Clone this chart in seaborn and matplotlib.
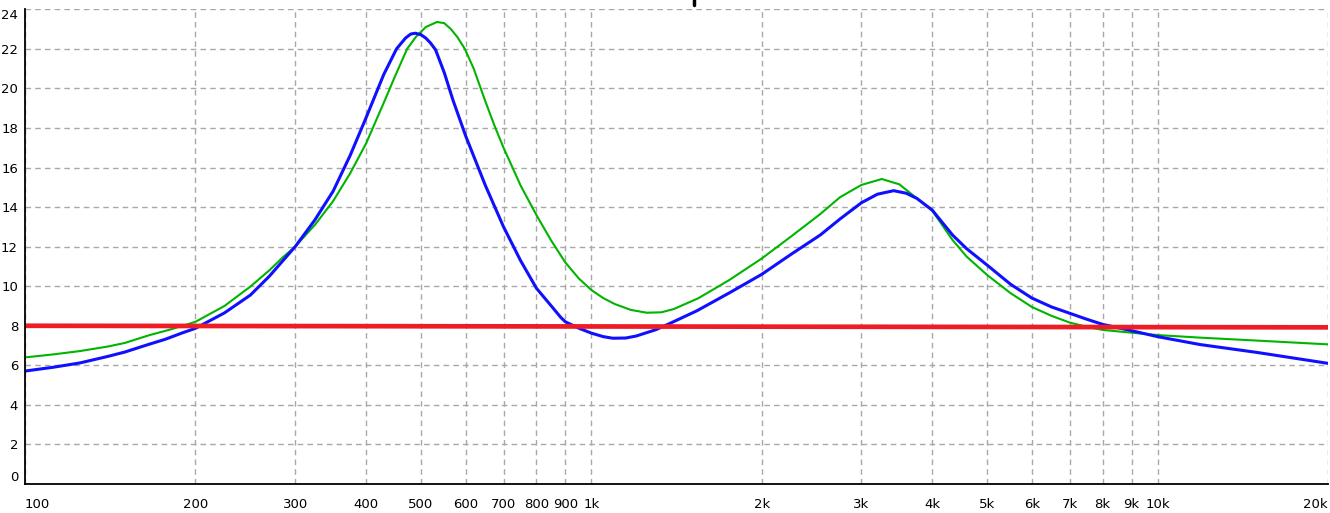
import matplotlib
matplotlib.use("Agg")
import matplotlib.pyplot as plt
from matplotlib.ticker import NullLocator
import seaborn as sns

# Werte (Frequenz in Hz)
freq_blue = [100, 112, 125, 140, 150, 165, 177, 190, 200, 225, 250, 270, 286,
             300, 325, 350, 375, 400, 412, 430, 453, 470, 480, 489, 500, 510,
             520, 531, 550, 570, 600, 650, 700, 750, 800, 850, 883, 900, 950,
             1000, 1050, 1091, 1150, 1200, 1300, 1377, 1450, 1537, 1750, 2000,
             2250, 2538, 2750, 3000, 3200, 3420, 3600, 3758, 4000, 4344, 4600,
             5000, 5500, 6000, 6500, 7000, 7500, 8000, 9000, 10000, 11890,
             15000, 20000]
blue_vals = [5.71, 5.9, 6.12, 6.45, 6.67, 7.05, 7.32, 7.65, 7.87, 8.65, 9.55,
             10.5, 11.32, 12.0, 13.35, 14.8, 16.6, 18.5, 19.4, 20.7, 22.0, 22.55,
             22.75, 22.79, 22.72, 22.55, 22.3, 21.95, 20.8, 19.4, 17.6, 15.1,
             13.0, 11.3, 9.9, 9.0, 8.43, 8.2, 7.88, 7.63, 7.45, 7.37, 7.38, 7.48,
             7.8, 8.12, 8.42, 8.76, 9.65, 10.6, 11.6, 12.59, 13.4, 14.22, 14.65,
             14.83, 14.7, 14.44, 13.85, 12.59, 11.9, 11.07, 10.1, 9.4, 8.95,
             8.63, 8.33, 8.07, 7.75, 7.45, 7.05, 6.65, 6.10]

freq_green = [100, 112, 125, 140, 150, 166, 180, 200, 225, 250, 270, 286, 300,
              325, 350, 375, 400, 432, 450, 473, 490, 510, 534, 550, 565, 580,
              598, 620, 649, 675, 700, 750, 800, 850, 900, 950, 1000, 1050, 1100,
              1175, 1253, 1330, 1400, 1545, 1750, 2000, 2250, 2538, 2750, 3000,
              3258, 3500, 3758, 4000, 4344, 4600, 5000, 5500, 6000, 6500, 7000,
              7500, 8000, 9000, 10000, 11890, 15000, 20000]
green_vals = [6.40, 6.55, 6.72, 6.95, 7.13, 7.53, 7.8, 8.2, 9.0, 9.98, 10.8,
              11.49, 12.0, 13.1, 14.3, 15.7, 17.2, 19.4, 20.6, 22.0, 22.6, 23.1,
              23.36, 23.3, 23.0, 22.6, 22.0, 21.0, 19.4, 18.1, 17.0, 15.1, 13.6,
              12.3, 11.2, 10.4, 9.81, 9.4, 9.1, 8.8, 8.66, 8.68, 8.85, 9.39, 10.3,
              11.4, 12.5, 13.65, 14.5, 15.12, 15.42, 15.15, 14.44, 13.82, 12.34,
              11.5, 10.57, 9.65, 8.95, 8.5, 8.16, 7.95, 7.79, 7.65, 7.53, 7.40,
              7.25, 7.06]

freq_red = [100, 20000]
red_vals = [8.0, 7.92]

x_ticks = [100, 200, 300, 400, 500, 600, 700, 800, 900, 1000,
           2000, 3000, 4000, 5000, 6000, 7000, 8000, 9000, 10000, 20000]
x_labels = ["100", "200", "300", "400", "500", "600", "700", "800", "900", "1k",
            "2k", "3k", "4k", "5k", "6k", "7k", "8k", "9k", "10k", "20k"]
y_ticks = list(range(0, 25, 2))

CURSOR_HZ = 1517

sns.set_style("white")
plt.rcParams['font.family'] = ['Liberation Sans Narrow', 'DejaVu Sans']

fig = plt.figure(figsize=(13.3, 5.13), dpi=100)
ax = fig.add_axes([25 / 1330, (513 - 484) / 513, (1328 - 25) / 1330, (484 - 9.3) / 513])

sns.lineplot(x=freq_green, y=green_vals, color="#00b400", lw=1.5, ax=ax)
sns.lineplot(x=freq_blue, y=blue_vals, color="#1010ff", lw=2.2, ax=ax)
sns.lineplot(x=freq_red, y=red_vals, color="#ee1c24", lw=3.4, ax=ax)

ax.set_xscale("log")
ax.set_xlim(100, 20000)
ax.set_ylim(0, 24)
ax.set_xticks(x_ticks, x_labels)
ax.xaxis.set_minor_locator(NullLocator())
ax.set_yticks(y_ticks, [str(v) for v in y_ticks])
ax.set_xlabel("")
ax.set_ylabel("")

ax.grid(True, color="#a8a8a8", linestyle=(0, (4, 3)), linewidth=1.0)
ax.set_axisbelow(True)
for side in ["top", "right"]:
    ax.spines[side].set_visible(False)
for side in ["left", "bottom"]:
    ax.spines[side].set_color("black")
    ax.spines[side].set_linewidth(1.3)

ax.tick_params(axis="both", direction="out", length=3, width=1, colors="black",
               labelsize=9.5)
ax.tick_params(axis="x", pad=7)
ax.tick_params(axis="y", pad=2)
xl = ax.get_xticklabels()
xl[0].set_ha("left")
xl[-1].set_ha("right")
yl = ax.get_yticklabels()
yl[0].set_va("bottom")
yl[-1].set_va("top")

# kleiner Marker oben
ax.axvline(CURSOR_HZ, ymin=1.009, ymax=1.02, color="black", lw=2.5, clip_on=False)

fig.savefig("out.png", dpi=100)
